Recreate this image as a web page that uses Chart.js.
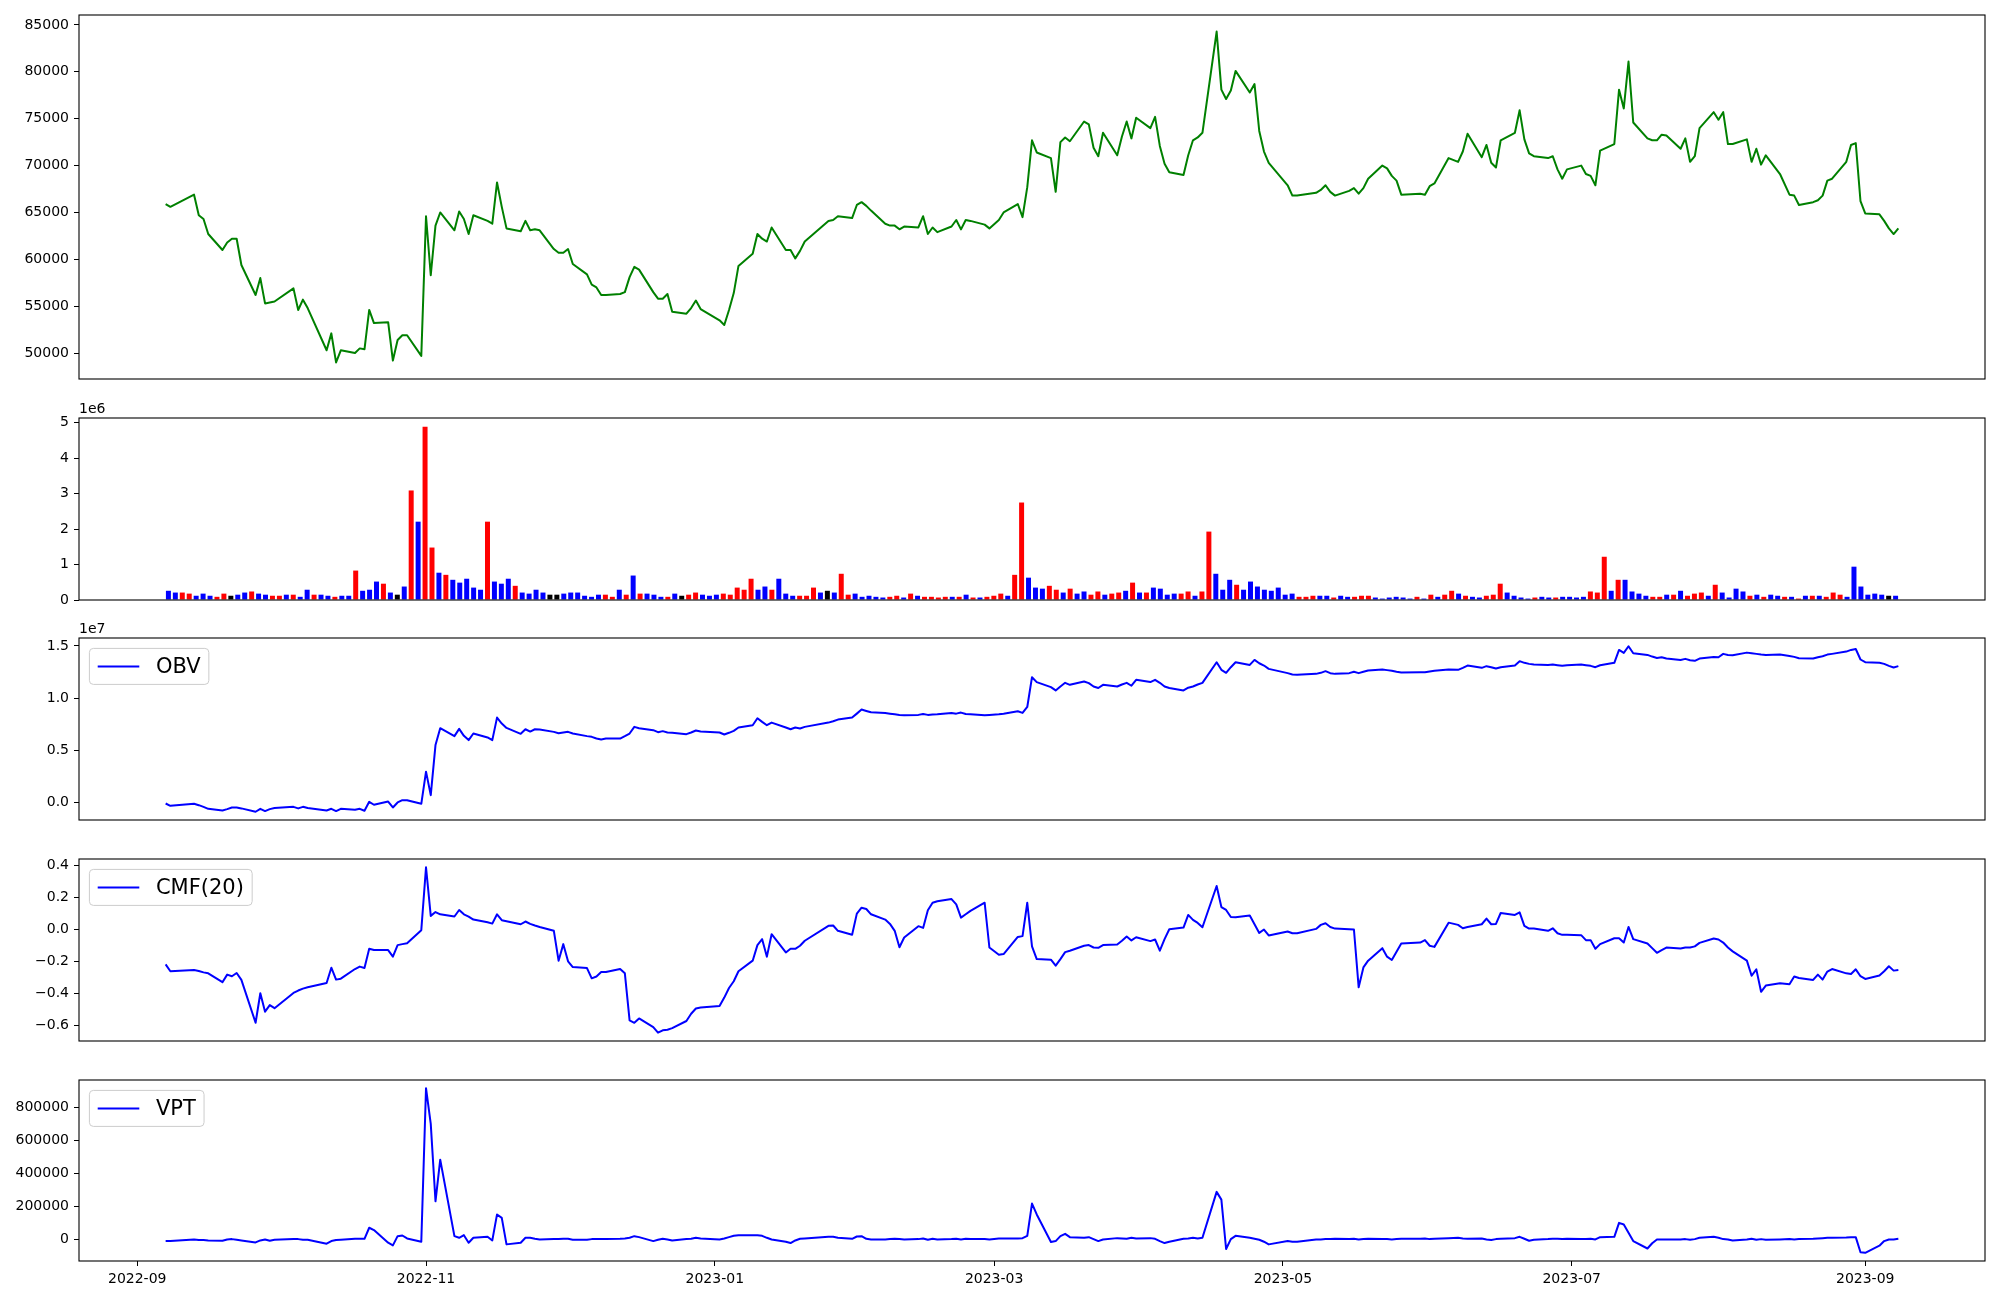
<!DOCTYPE html>
<html><head><meta charset="utf-8">
<script src="https://cdn.jsdelivr.net/npm/chart.js@4/dist/chart.umd.min.js"></script>
<style>
html,body{margin:0;padding:0;background:#fff;}
#wrap{position:relative;width:2000px;height:1300px;background:#fff;}
#wrap canvas{position:absolute;left:0;top:0;}
</style></head><body>
<div id="wrap">
<canvas id="cPrice" width="2000" height="1300"></canvas>
<canvas id="cVol" width="2000" height="1300"></canvas>
<canvas id="cObv" width="2000" height="1300"></canvas>
<canvas id="cCmf" width="2000" height="1300"></canvas>
<canvas id="cVpt" width="2000" height="1300"></canvas>
</div>
<script>
// ---------- DATA ----------
const firstDate = '2022-09-07', lastDate = '2023-09-08';
const holidays = ['2022-09-09','2022-09-12','2022-10-03','2022-10-10','2022-12-30','2023-01-23','2023-01-24','2023-03-01','2023-05-01','2023-05-05','2023-05-29','2023-06-06','2023-08-15'];
const tickLabels = ['2022-09','2022-11','2023-01','2023-03','2023-05','2023-07','2023-09'];

const close = [65900,65600,66900,64700,64300,62700,61000,61800,62200,62200,
59400,56200,58000,55300,55400,55500,56900,54600,55700,54800,
50300,52100,49000,50300,50000,50500,50400,54600,53200,53300,
49200,51400,51900,51900,49700,64600,58300,63600,65000,63100,
65100,64300,62700,64700,64100,63800,68200,65600,63300,63000,
64100,63100,63200,63100,61100,60700,60700,61100,59500,58400,
57300,57000,56200,56200,56300,56500,58100,59200,58900,56500,
55800,55800,56300,54400,54200,54800,55600,54700,53500,53000,
54600,56400,59300,60600,62700,62200,61900,63400,61000,61000,
60100,60900,61900,64100,64200,64600,64400,65800,66100,65700,
65200,63800,63600,63600,63200,63500,63400,64600,62700,63400,
62900,63500,64200,63200,64200,64100,63700,63300,64200,65000,
65900,64500,67700,72700,71400,70800,67200,72500,73000,72600,
74700,74400,71900,71000,73500,71100,73100,74700,72900,75100,
74000,75200,72100,70200,69300,69000,71100,72700,73000,73500,
84300,78100,77100,78000,80100,77800,78700,73700,71500,70300,
67900,66800,66800,67100,67400,67900,67200,66800,67300,67600,
67000,67600,68600,70000,69700,68900,68400,66900,67000,66900,
67800,68100,70800,70400,71500,73400,70900,72200,70300,69800,
72700,73500,75900,72800,71300,71000,70800,71000,69600,68600,
69600,70000,69100,68900,67900,71600,72300,78100,76100,81100,
74600,72900,72700,72700,73300,73200,71800,72900,70400,71000,
74000,75700,74900,75700,72300,72300,72800,70400,71800,70100,
71100,69100,66900,66800,65800,66100,66300,66800,68400,68600,
70400,72200,72400,66200,64900,64800,64100,63300,62700,63300];

const volume = [260000,210000,210000,180000,120000,180000,120000,90000,180000,120000,
150000,210000,240000,180000,150000,120000,120000,150000,150000,90000,
290000,150000,150000,120000,90000,120000,120000,830000,260000,290000,
520000,460000,210000,150000,380000,3090000,2210000,4890000,1480000,770000,
710000,570000,490000,600000,350000,290000,2210000,520000,460000,600000,
400000,210000,180000,290000,210000,150000,150000,180000,210000,210000,
120000,90000,150000,150000,90000,290000,150000,690000,180000,180000,
150000,90000,90000,180000,120000,150000,210000,150000,120000,150000,
180000,150000,350000,290000,600000,290000,380000,290000,600000,180000,
120000,120000,120000,350000,210000,260000,210000,740000,150000,180000,
90000,120000,90000,70000,90000,120000,70000,180000,120000,90000,
90000,70000,90000,90000,90000,150000,70000,70000,90000,120000,
180000,120000,710000,2750000,630000,350000,320000,400000,290000,210000,
320000,180000,240000,150000,240000,150000,180000,210000,260000,490000,
210000,210000,350000,320000,150000,180000,180000,240000,120000,240000,
1930000,740000,290000,570000,430000,290000,520000,380000,290000,260000,
350000,150000,180000,90000,90000,120000,120000,120000,70000,120000,
90000,90000,120000,120000,70000,40000,70000,90000,70000,40000,
90000,40000,150000,90000,150000,260000,180000,120000,90000,70000,
120000,150000,460000,210000,120000,70000,40000,70000,90000,70000,
70000,90000,90000,70000,90000,240000,210000,1220000,260000,570000,
570000,240000,180000,120000,90000,90000,150000,150000,260000,120000,
180000,210000,120000,430000,210000,70000,320000,240000,120000,150000,
90000,150000,120000,90000,90000,40000,120000,120000,120000,90000,
210000,150000,90000,940000,380000,150000,180000,150000,120000,120000];

// 1 = up day (red), -1 = down day (blue), 0 = unchanged (black)
const direction = [-1,-1,1,1,-1,-1,-1,1,1,0,
-1,-1,1,-1,-1,1,1,-1,1,-1,
-1,1,-1,-1,1,-1,-1,1,-1,-1,
-1,1,-1,0,-1,1,-1,1,1,-1,
1,-1,-1,-1,-1,-1,1,-1,-1,-1,
1,-1,-1,-1,-1,0,0,-1,-1,-1,
-1,-1,-1,1,1,-1,1,-1,1,-1,
-1,-1,1,-1,0,1,1,-1,-1,-1,
1,1,1,1,1,-1,-1,1,-1,-1,
-1,1,1,1,-1,0,-1,1,1,-1,
-1,-1,-1,-1,1,1,-1,1,-1,1,
1,1,1,-1,1,-1,1,-1,1,1,
1,-1,1,1,-1,-1,-1,1,1,-1,
1,-1,-1,1,1,-1,1,1,-1,1,
-1,1,-1,-1,-1,-1,1,1,-1,1,
1,-1,-1,-1,1,-1,-1,-1,-1,-1,
-1,-1,-1,1,1,1,-1,-1,1,-1,
-1,1,1,1,-1,-1,-1,-1,-1,-1,
1,-1,1,-1,1,1,-1,1,-1,-1,
1,1,1,-1,-1,-1,-1,1,-1,-1,
1,-1,-1,-1,-1,1,1,1,-1,1,
-1,-1,-1,-1,1,1,-1,1,-1,1,
1,1,-1,1,-1,-1,-1,-1,1,-1,
1,-1,-1,1,-1,1,-1,1,-1,1,
1,1,-1,-1,-1,-1,-1,-1,0,-1];

const obv = [-130000,-350000,-160000,-290000,-450000,-640000,-800000,-670000,-510000,-510000,
-600000,-920000,-640000,-860000,-670000,-570000,-450000,-600000,-450000,-570000,
-800000,-640000,-860000,-640000,-730000,-640000,-830000,30000,-250000,60000,
-510000,-30000,190000,190000,-160000,2930000,670000,5480000,7100000,6340000,
7040000,6370000,5960000,6590000,6210000,5960000,8120000,7550000,7130000,6560000,
7000000,6780000,7000000,6970000,6750000,6620000,6690000,6750000,6590000,6340000,
6270000,6110000,6020000,6110000,6110000,6340000,6590000,7230000,7100000,6910000,
6720000,6820000,6690000,6660000,6530000,6690000,6880000,6780000,6690000,6500000,
6660000,6850000,7170000,7390000,8060000,7710000,7390000,7640000,7170000,7000000,
7170000,7070000,7230000,7640000,7770000,7930000,8120000,8500000,8890000,8760000,
8630000,8570000,8500000,8440000,8380000,8340000,8380000,8470000,8380000,8410000,
8440000,8570000,8500000,8600000,8470000,8440000,8340000,8380000,8440000,8500000,
8730000,8570000,9140000,12000000,11530000,11050000,10730000,11110000,11460000,11270000,
11590000,11430000,11110000,10960000,11270000,11110000,11300000,11460000,11180000,11750000,
11530000,11750000,11460000,11110000,10960000,10730000,10990000,11110000,11300000,11460000,
13440000,12710000,12420000,12960000,13440000,13180000,13660000,13340000,13120000,12800000,
12390000,12260000,12230000,12320000,12420000,12580000,12390000,12320000,12390000,12520000,
12390000,12520000,12640000,12740000,12680000,12610000,12520000,12450000,12480000,12480000,
12550000,12610000,12740000,12710000,12900000,13120000,12900000,13060000,12960000,12830000,
12960000,13120000,13540000,13380000,13280000,13220000,13180000,13220000,13150000,13090000,
13150000,13220000,13150000,13090000,12960000,13150000,13380000,14620000,14330000,14970000,
14300000,14140000,13980000,13850000,13920000,13790000,13660000,13760000,13630000,13570000,
13790000,13950000,13920000,14240000,14140000,14110000,14360000,14300000,14240000,14170000,
14140000,14170000,14040000,13950000,13820000,13790000,13920000,14010000,14170000,14240000,
14460000,14620000,14710000,13700000,13440000,13380000,13280000,13090000,12930000,13060000];

const cmf = [-0.219,-0.262,-0.254,-0.260,-0.269,-0.275,-0.330,-0.283,-0.293,-0.273,
-0.316,-0.583,-0.399,-0.514,-0.473,-0.492,-0.397,-0.382,-0.370,-0.362,
-0.335,-0.240,-0.314,-0.308,-0.248,-0.233,-0.242,-0.122,-0.130,-0.130,
-0.171,-0.099,-0.093,-0.087,-0.006,0.386,0.083,0.107,0.093,0.079,
0.120,0.093,0.079,0.060,0.043,0.035,0.093,0.056,0.050,0.031,
0.048,0.033,0.023,0.014,-0.010,-0.196,-0.093,-0.200,-0.236,-0.242,
-0.306,-0.295,-0.267,-0.267,-0.248,-0.275,-0.568,-0.583,-0.556,-0.610,
-0.645,-0.630,-0.626,-0.616,-0.572,-0.527,-0.494,-0.488,-0.479,-0.426,
-0.366,-0.324,-0.262,-0.196,-0.099,-0.062,-0.171,-0.031,-0.145,-0.122,
-0.122,-0.103,-0.072,0.021,0.023,-0.010,-0.035,0.097,0.134,0.126,
0.093,0.060,0.033,-0.010,-0.112,-0.052,0.019,0.008,0.118,0.165,
0.174,0.188,0.155,0.072,0.093,0.114,0.165,-0.114,-0.159,-0.155,
-0.048,-0.043,0.165,-0.107,-0.186,-0.190,-0.227,-0.186,-0.143,-0.134,
-0.103,-0.099,-0.114,-0.116,-0.099,-0.095,-0.072,-0.045,-0.070,-0.050,
-0.074,-0.064,-0.134,-0.062,0.000,0.010,0.089,0.058,0.039,0.012,
0.269,0.138,0.120,0.076,0.074,0.085,0.031,-0.023,-0.002,-0.039,
-0.014,-0.025,-0.025,0.002,0.027,0.037,0.014,0.004,0.000,-0.002,
-0.362,-0.238,-0.196,-0.118,-0.171,-0.192,-0.140,-0.089,-0.083,-0.068,
-0.103,-0.110,0.041,0.027,0.006,0.014,0.031,0.066,0.031,0.033,
0.101,0.089,0.105,0.021,0.004,0.004,-0.010,0.006,-0.025,-0.035,
-0.035,-0.037,-0.068,-0.068,-0.122,-0.093,-0.056,-0.056,-0.083,0.014,
-0.062,-0.089,-0.118,-0.147,-0.130,-0.114,-0.120,-0.114,-0.114,-0.107,
-0.085,-0.058,-0.064,-0.083,-0.114,-0.138,-0.196,-0.290,-0.250,-0.390,
-0.351,-0.337,-0.343,-0.295,-0.304,-0.316,-0.283,-0.314,-0.264,-0.248,
-0.275,-0.279,-0.250,-0.293,-0.310,-0.289,-0.262,-0.231,-0.258,-0.254];

const vpt = [-12000,-12000,-2000,-6000,-6000,-8000,-10000,-2000,0,-4000,
-8000,-20000,-8000,-2000,-10000,-4000,0,0,-4000,-4000,
-28000,-12000,-6000,-4000,2000,2000,2000,69000,55000,-22000,
-38000,18000,22000,4000,-16000,917000,700000,230000,483000,18000,
8000,24000,-22000,8000,14000,-8000,150000,129000,-32000,-22000,
8000,8000,2000,-2000,0,0,2000,2000,-4000,-4000,
0,0,0,0,2000,4000,8000,18000,12000,-12000,
-4000,2000,-2000,-8000,0,2000,8000,4000,-2000,4000,
12000,20000,24000,24000,24000,20000,8000,-2000,-16000,-24000,
-8000,2000,4000,14000,14000,8000,2000,16000,18000,2000,
-2000,-2000,0,2000,0,-2000,0,4000,-4000,2000,
-2000,0,2000,-2000,2000,0,0,-2000,4000,4000,
4000,6000,20000,216000,150000,-18000,-12000,18000,32000,12000,
8000,12000,0,-12000,-2000,6000,4000,2000,8000,4000,
6000,2000,-12000,-24000,-16000,2000,4000,8000,4000,8000,
287000,240000,-60000,0,20000,8000,2000,-4000,-16000,-32000,
-12000,-16000,-16000,-2000,-2000,0,0,2000,0,2000,
-2000,0,2000,0,0,-2000,0,2000,2000,4000,
0,2000,6000,8000,4000,2000,4000,-2000,-6000,0,
2000,6000,14000,2000,-10000,-4000,0,2000,2000,0,
2000,0,0,2000,-2000,12000,14000,99000,89000,38000,
-12000,-57000,-25000,-2000,-2000,-2000,-2000,0,-4000,0,
8000,14000,8000,0,-2000,-8000,-2000,2000,-4000,0,
-4000,-2000,0,-2000,0,2000,4000,6000,8000,8000,
10000,12000,12000,-80000,-83000,-40000,-12000,-2000,-2000,2000];

const priceTicks = [50000,55000,60000,65000,70000,75000,80000,85000];
const volTicks = [0,1e6,2e6,3e6,4e6,5e6];
const obvTicks = [0,0.5e7,1.0e7,1.5e7];
const cmfTicks = [-0.6,-0.4,-0.2,0,0.2,0.4];
const vptTicks = [0,200000,400000,600000,800000];

// ---------- BUILD ----------
function dayNum(s){ return Date.UTC(+s.slice(0,4), +s.slice(5,7)-1, +(s.slice(8,10)||1)) / 86400000; }
const dates = [];
for (let t = dayNum(firstDate); t <= dayNum(lastDate); t++) {
  const d = new Date(t*86400000), wd = d.getUTCDay(), iso = d.toISOString().slice(0,10);
  if (wd === 0 || wd === 6 || holidays.includes(iso)) continue;
  dates.push(iso);
}
const xs = dates.map(dayNum);
const tickPos = tickLabels.map(dayNum);

function padRange(arr, zeroBase){
  let mn = Math.min(...arr), mx = Math.max(...arr);
  if (zeroBase) { mn = 0; return [0, mx + 0.05*(mx-mn)]; }
  const m = 0.05*(mx-mn); return [mn-m, mx+m];
}
const xSpan = xs[xs.length-1]-xs[0];
const xMin = xs[0]-0.05*xSpan, xMax = xs[xs.length-1]+0.05*xSpan;

Chart.defaults.font.family = '"DejaVu Sans", sans-serif';
Chart.defaults.font.size = 14;
Chart.defaults.color = '#000';

const LEFT = 79;
const panels = {price:{top:15,bottom:379}, vol:{top:418,bottom:600}, obv:{top:638,bottom:820}, cmf:{top:859,bottom:1041}, vpt:{top:1080,bottom:1261}};

const framePlugin = {
  id: 'mplFrame',
  afterDraw(chart, args, opts){
    const ctx = chart.ctx, a = chart.chartArea;
    ctx.save();
    ctx.strokeStyle = '#000'; ctx.lineWidth = 1.1;
    ctx.strokeRect(a.left, a.top, a.right-a.left, a.bottom-a.top);
    if (opts.offsetText) {
      ctx.fillStyle = '#000'; ctx.font = '14px "DejaVu Sans"';
      ctx.textAlign = 'left'; ctx.textBaseline = 'alphabetic';
      ctx.fillText(opts.offsetText, a.left, a.top - 5);
    }
    if (opts.legend) {
      const fs = 21, label = chart.data.datasets[0].label, color = chart.data.datasets[0].borderColor;
      ctx.font = fs + 'px "DejaVu Sans"';
      const tw = ctx.measureText(label).width;
      const x0 = a.left + 10.4, y0 = a.top + 10.4, h = 36, w = 8.3 + 41.6 + 16.6 + tw + 8.3, r = 4;
      ctx.beginPath();
      ctx.moveTo(x0+r, y0); ctx.lineTo(x0+w-r, y0); ctx.arcTo(x0+w, y0, x0+w, y0+r, r);
      ctx.lineTo(x0+w, y0+h-r); ctx.arcTo(x0+w, y0+h, x0+w-r, y0+h, r);
      ctx.lineTo(x0+r, y0+h); ctx.arcTo(x0, y0+h, x0, y0+h-r, r);
      ctx.lineTo(x0, y0+r); ctx.arcTo(x0, y0, x0+r, y0, r); ctx.closePath();
      ctx.fillStyle = 'rgba(255,255,255,0.8)'; ctx.fill();
      ctx.strokeStyle = '#cccccc'; ctx.lineWidth = 1; ctx.stroke();
      ctx.beginPath(); ctx.strokeStyle = color; ctx.lineWidth = 2;
      ctx.moveTo(x0+8.3, y0+h/2); ctx.lineTo(x0+8.3+41.6, y0+h/2); ctx.stroke();
      ctx.fillStyle = '#000'; ctx.textAlign = 'left'; ctx.textBaseline = 'middle';
      ctx.fillText(label, x0+8.3+41.6+16.6, y0+h/2+1);
    }
    ctx.restore();
  }
};

function yAxis(range, ticks, fmt){
  return {
    type:'linear', position:'left', min:range[0], max:range[1],
    afterFit(s){ s.width = LEFT; },
    afterBuildTicks(s){ s.ticks = ticks.map(v => ({value:v})); },
    ticks:{ callback:(v)=>fmt(v), padding:5, color:'#000', font:{size:14} },
    grid:{ display:true, drawOnChartArea:false, drawTicks:true, tickLength:5, tickWidth:1, tickColor:'#000' },
    border:{ display:false }
  };
}
function hiddenX(min, max){ return {type:'linear', min, max, display:false}; }
function layoutFor(p, bottomAxis){
  return {padding:{top:p.top, bottom: bottomAxis ? 0 : 1300 - p.bottom, left:0, right:15}};
}
const minus = s => s.replace('-', '\u2212');
const baseOpts = {responsive:false, animation:false, events:[], normalized:true};

function lineChart(id, label, color, values, p, yRange, ticks, fmt, extra, bottomAxis){
  const xScale = bottomAxis ? {
      type:'linear', position:'bottom', min:xMin, max:xMax,
      afterFit(s){ s.height = 39; },
      afterBuildTicks(s){ s.ticks = tickPos.map(v => ({value:v})); },
      ticks:{ autoSkip:false, maxRotation:0, minRotation:0, padding:5, color:'#000', font:{size:14},
              callback:(v,i)=>tickLabels[i] },
      grid:{ display:true, drawOnChartArea:false, drawTicks:true, tickLength:5, tickWidth:1, tickColor:'#000' },
      border:{ display:false }
    } : hiddenX(xMin, xMax);
  return new Chart(document.getElementById(id), {
    type:'line',
    data:{ datasets:[{ label, data: values.map((v,i)=>({x:xs[i], y:v})), borderColor:color, borderWidth:2,
      pointRadius:0, tension:0, fill:false, borderJoinStyle:'round', borderCapStyle:'butt' }] },
    options: Object.assign({}, baseOpts, {
      layout: layoutFor(p, bottomAxis),
      scales:{ x:xScale, y:yAxis(yRange, ticks, fmt) },
      plugins:{ legend:{display:false}, tooltip:{enabled:false}, mplFrame: extra }
    }),
    plugins:[framePlugin]
  });
}

// Price
lineChart('cPrice', 'Close', '#008000', close, panels.price, padRange(close), priceTicks, v => String(v), {}, false);

// Volume bars (evenly spaced by row index)
const idx = volume.map((v,i)=>i);
const volRange = padRange(volume, true);
const nb = volume.length;
new Chart(document.getElementById('cVol'), {
  type:'bar',
  data:{ datasets:[{ label:'Volume', data: volume.map((v,i)=>({x:i, y:v})),
     backgroundColor: direction.map(d => d > 0 ? '#ff0000' : (d < 0 ? '#0000ff' : '#000000')),
     borderWidth:0, barPercentage:0.72, categoryPercentage:1.0 }] },
  options: Object.assign({}, baseOpts, {
    layout: layoutFor(panels.vol, false),
    scales:{ x:{type:'linear', min:-0.4-0.05*(nb-1+0.8), max:(nb-1)+0.4+0.05*(nb-1+0.8), display:false, offset:false},
             y:yAxis(volRange, volTicks, v => String(Math.round(v/1e6))) },
    plugins:{ legend:{display:false}, tooltip:{enabled:false}, mplFrame:{offsetText:'1e6'} }
  }),
  plugins:[framePlugin]
});

// OBV
lineChart('cObv', 'OBV', '#0000ff', obv, panels.obv, padRange(obv), obvTicks, v => (v/1e7).toFixed(1), {offsetText:'1e7', legend:true}, false);
// CMF
lineChart('cCmf', 'CMF(20)', '#0000ff', cmf, panels.cmf, padRange(cmf), cmfTicks, v => minus(v.toFixed(1)), {legend:true}, false);
// VPT
lineChart('cVpt', 'VPT', '#0000ff', vpt, panels.vpt, padRange(vpt), vptTicks, v => String(v), {legend:true}, true);
</script>
</body></html>
